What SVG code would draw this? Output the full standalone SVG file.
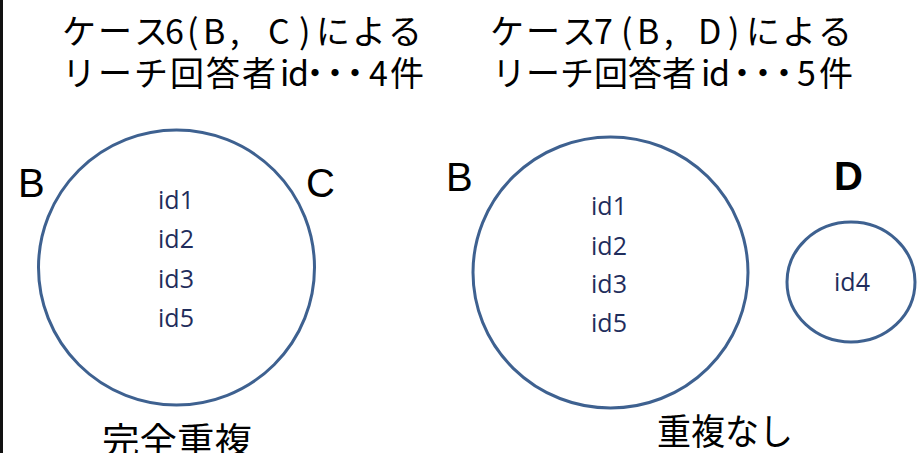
<svg xmlns="http://www.w3.org/2000/svg" width="917" height="453" viewBox="0 0 917 453">
<style>
.title{font-family:"Noto Sans CJK JP","Liberation Sans",sans-serif;font-size:34px;fill:#000}
.lbl{font-family:"Liberation Sans",Arial,sans-serif;font-size:40px;fill:#000}
.id{font-family:"Open Sans","Liberation Sans",sans-serif;font-size:25px;fill:#1f2d5c;text-anchor:middle}
.cap{font-family:"Noto Sans CJK JP",sans-serif;font-size:36px;fill:#000}
.circ{fill:none;stroke:#3e6190;stroke-width:3}
</style>
<rect x="0" y="0" width="917" height="453" fill="#fff"/>
<rect x="0" y="0" width="3" height="453" fill="#111"/>
<g id="title6">
<text class="title" x="62 98 134 165 187 203 230 244 268 299 316 352 388" y="44">ケース6(B, C)による</text>
<text class="title" x="62 98 134 170 206 242 280 288 298 318 338 369 390" y="86">リーチ回答者id・・・4件</text>
</g>
<g id="title7">
<text class="title" x="490 526 562 594 621 637 664 678 698 728 746 782 818" y="44">ケース7(B, D)による</text>
<text class="title" x="492 526 560 594 628 662 701 709 725 746 767 797 819" y="86">リーチ回答者id・・・5件</text>
</g>
<g id="case6">
<ellipse class="circ" cx="176.5" cy="267.5" rx="138" ry="137.5"/>
<text class="lbl" x="18" y="197">B</text>
<text class="lbl" x="306" y="197">C</text>
<text class="id" x="176" y="209">id1</text>
<text class="id" x="176" y="248">id2</text>
<text class="id" x="176" y="287.5">id3</text>
<text class="id" x="176" y="327">id5</text>
<text class="cap" x="102" y="454" textLength="150" lengthAdjust="spacingAndGlyphs">完全重複</text>
</g>
<g id="case7B">
<ellipse class="circ" cx="610.5" cy="272.5" rx="137.5" ry="135.5"/>
<text class="lbl" x="446" y="191">B</text>
<text class="id" x="609" y="215">id1</text>
<text class="id" x="609" y="255">id2</text>
<text class="id" x="609" y="293">id3</text>
<text class="id" x="609" y="332">id5</text>
</g>
<g id="case7D">
<ellipse class="circ" cx="851" cy="282" rx="64" ry="60"/>
<text class="lbl" x="834" y="190" font-weight="bold">D</text>
<text class="id" x="852" y="291">id4</text>
</g>
<text class="cap" x="657" y="445" textLength="136" lengthAdjust="spacingAndGlyphs">重複なし</text>
<g id="connectors"/>
</svg>
